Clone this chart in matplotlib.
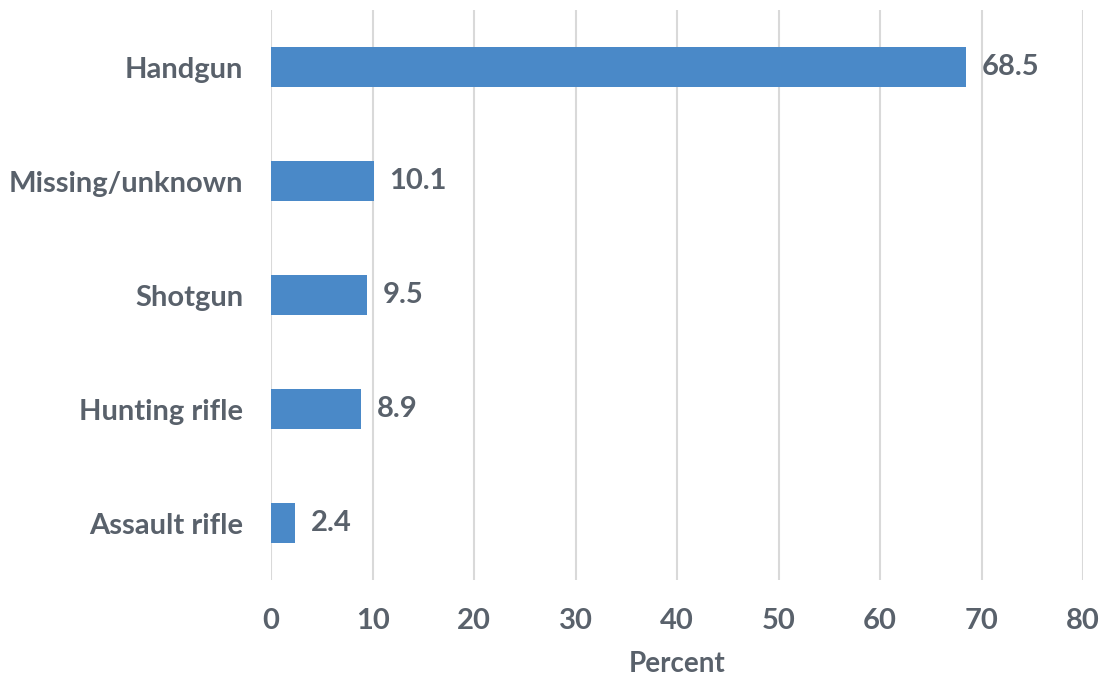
import matplotlib
matplotlib.use("Agg")
import matplotlib.pyplot as plt

categories = ["Handgun", "Missing/unknown", "Shotgun", "Hunting rifle", "Assault rifle"]
values = [68.5, 10.1, 9.5, 8.9, 2.4]
xticks = [0, 10, 20, 30, 40, 50, 60, 70, 80]

FONT = ["Lato", "DejaVu Sans"]
TC = "#59616B"
FS = 21

fig = plt.figure(figsize=(11.04, 6.77), dpi=100)
ax = fig.add_axes([0.2455, 0.143, 0.7355, 0.842])

ypos = list(range(len(categories)))[::-1]
ax.barh(ypos, values, height=0.35, color="#4A89C8", zorder=3)
for y, v in zip(ypos, values):
    ax.text(v + 1.55, y, f"{v}", va="center", ha="left", fontsize=FS,
            fontweight="bold", color=TC, family=FONT)

ax.set_xlim(0, 80)
ax.set_ylim(-0.5, 4.5)
ax.set_xticks(xticks)
ax.set_yticks(ypos)
ax.set_yticklabels(categories)
ax.grid(axis="x", color="#D9D9D9", linewidth=1.5, zorder=0)
for s in ax.spines.values():
    s.set_visible(False)
ax.tick_params(axis="both", length=0, labelsize=FS, labelcolor=TC)
ax.tick_params(axis="y", pad=20)
ax.tick_params(axis="x", pad=20)
for lbl in ax.get_xticklabels() + ax.get_yticklabels():
    lbl.set_fontweight("bold")
    lbl.set_family(FONT)
ax.set_xlabel("Percent", fontsize=20, fontweight="bold", color=TC, labelpad=12,
              family=FONT)

fig.savefig("out.png", dpi=100)
